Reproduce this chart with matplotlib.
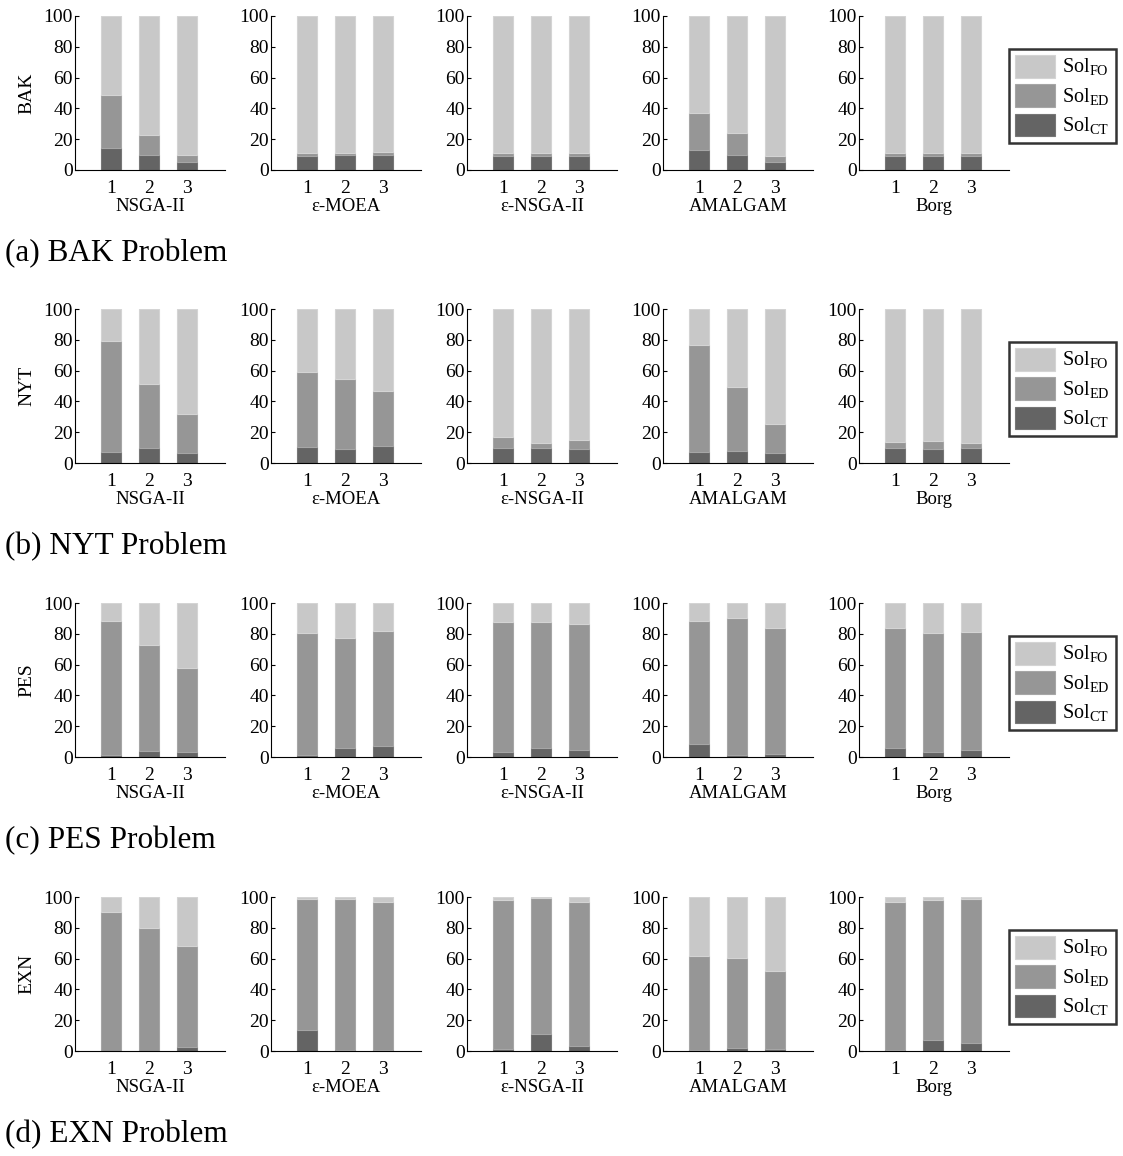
import numpy as np
import matplotlib
matplotlib.use("Agg")
import matplotlib.pyplot as plt

plt.rcParams["font.family"] = ["Liberation Serif", "DejaVu Serif"]
plt.rcParams["mathtext.fontset"] = "custom"
plt.rcParams["mathtext.rm"] = "Liberation Serif"

algorithms = ["NSGA-II", "ε-MOEA", "ε-NSGA-II", "AMALGAM", "Borg"]
problems = ["BAK", "NYT", "PES", "EXN"]
captions = ["(a) BAK Problem", "(b) NYT Problem", "(c) PES Problem", "(d) EXN Problem"]
runs = [1, 2, 3]

# share of solutions (%) per algorithm (rows) and run (columns)
ct_bak = [[14.5, 10, 5], [9, 9.5, 9.5], [9, 9, 9], [13, 10, 5], [9, 9, 9]]
ed_bak = [[34.5, 12.5, 4.5], [2, 1.5, 2], [2, 2, 2], [24, 14, 4], [2, 2, 2]]

ct_nyt = [[7, 9.5, 6.5], [10.5, 9, 11], [9.5, 9.5, 9], [7, 7.5, 6.5], [9.5, 9, 9.5]]
ed_nyt = [[72, 41.5, 25], [48.5, 45.5, 35.5], [7.5, 3.5, 6], [69.5, 42, 19], [4, 5.5, 3.5]]

ct_pes = [[1.5, 4, 3], [1.5, 6, 7], [3, 6, 4.5], [8.5, 1, 2], [6, 3.5, 4.5]]
ed_pes = [[87, 69, 55], [79, 71, 75], [84.5, 81.5, 82], [80, 89.5, 82], [77.5, 77, 76.5]]

ct_exn = [[0.3, 0.3, 2.5], [13.5, 0.5, 0.5], [1.5, 11, 3.5], [0.5, 2, 1.5], [0.5, 7, 5]]
ed_exn = [[89.7, 79.7, 66], [85.5, 98, 96.5], [96.5, 88.5, 93], [61.5, 58.5, 50.5], [96, 91, 94]]

ct_all = [ct_bak, ct_nyt, ct_pes, ct_exn]
ed_all = [ed_bak, ed_nyt, ed_pes, ed_exn]

c_ct, c_ed, c_fo = "#646464", "#969696", "#c8c8c8"
e_ct, e_ed, e_fo = "#767676", "#a6a6a6", "#d4d4d4"

W, H = 1123, 1156
fig = plt.figure(figsize=(W / 100, H / 100), dpi=100)

lefts = [75, 271, 467, 663, 859]
tops = [16, 309, 603, 897]
aw, ah = 150, 154
bw = 0.54

for r, prob in enumerate(problems):
    ct_rows = np.array(ct_all[r], float)
    ed_rows = np.array(ed_all[r], float)
    fo_rows = 100 - ct_rows - ed_rows
    for c, alg in enumerate(algorithms):
        ax = fig.add_axes([lefts[c] / W, 1 - (tops[r] + ah) / H, aw / W, ah / H])
        x = np.array(runs)
        ct, ed, fo = ct_rows[c], ed_rows[c], fo_rows[c]
        b_ct = ax.bar(x, ct, bw, color=c_ct, edgecolor=e_ct, lw=0.8)
        b_ed = ax.bar(x, ed, bw, bottom=ct, color=c_ed, edgecolor=e_ed, lw=0.8)
        b_fo = ax.bar(x, fo, bw, bottom=ct + ed, color=c_fo, edgecolor=e_fo, lw=0.8)
        ax.set_xlim(0.05, 4)
        ax.set_ylim(0, 100)
        ax.set_yticks([0, 20, 40, 60, 80, 100])
        ax.set_xticks(runs)
        ax.spines["top"].set_visible(False)
        ax.spines["right"].set_visible(False)
        ax.tick_params(axis="y", direction="in", length=3, pad=1.5, labelsize=14)
        ax.tick_params(axis="x", direction="in", length=0, pad=7, labelsize=14)
        ax.set_xlabel(alg, fontsize=13.5, labelpad=1)
        if c == 0:
            ax.set_ylabel(prob, fontsize=14, labelpad=6)
        if c == len(algorithms) - 1:
            leg = ax.legend([b_fo, b_ed, b_ct],
                            [r"Sol$_{\mathrm{FO}}$", r"Sol$_{\mathrm{ED}}$", r"Sol$_{\mathrm{CT}}$"],
                            loc="center left", bbox_to_anchor=(1.0, 0.48),
                            fontsize=14.5, frameon=True, fancybox=False,
                            handlelength=2.0, handleheight=1.35, labelspacing=0.3,
                            handletextpad=0.35, borderpad=0.3, borderaxespad=0.0)
            leg.get_frame().set_edgecolor("black")
            leg.get_frame().set_linewidth(1.8)
    fig.text(5 / W, 1 - (tops[r] + ah + 84) / H, captions[r], fontsize=22.5, va="center", ha="left")

fig.savefig("out.png", dpi=100)
